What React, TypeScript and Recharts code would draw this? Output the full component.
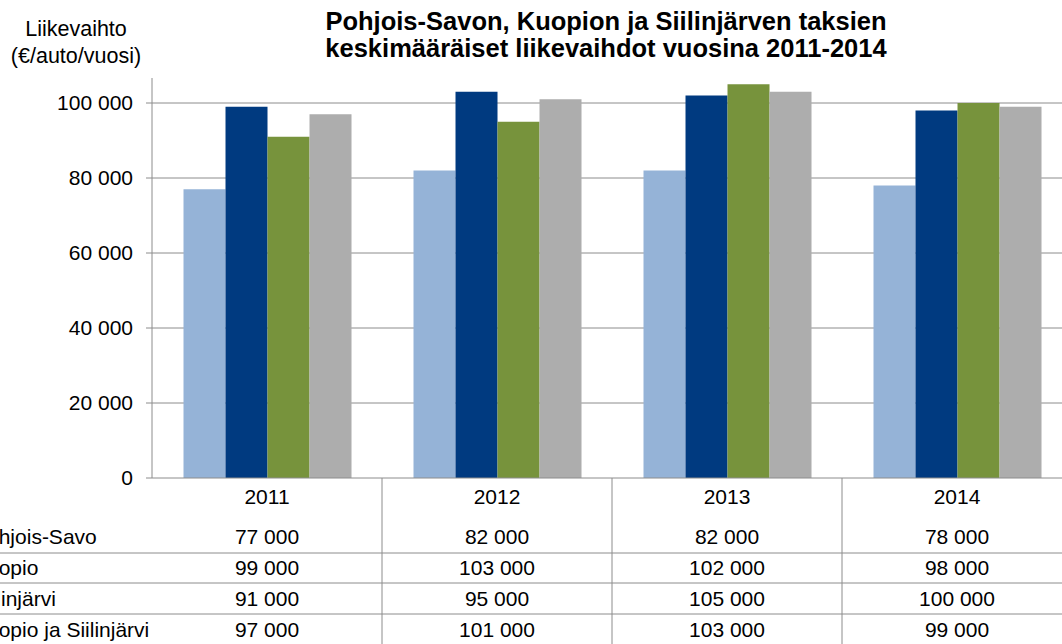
import React from "react";
import { BarChart, Bar, XAxis, YAxis, CartesianGrid } from "recharts";

const years = ["2011", "2012", "2013", "2014"];
const seriesNames = ["Pohjois-Savo", "Kuopio", "Siilinjärvi", "Kuopio ja Siilinjärvi"];
const pohjoisSavo = [77000, 82000, 82000, 78000];
const kuopio = [99000, 103000, 102000, 98000];
const siilinjarvi = [91000, 95000, 105000, 100000];
const kuopioSiilinjarvi = [97000, 101000, 103000, 99000];
const yTicks = [0, 20000, 40000, 60000, 80000, 100000];

const keys = ["ps", "ku", "si", "ks"];
const colors = ["#95B3D7", "#003A80", "#77933C", "#ADADAD"];
const seriesValues = [pohjoisSavo, kuopio, siilinjarvi, kuopioSiilinjarvi];

const data = years.map((year, i) => ({
  year,
  ps: pohjoisSavo[i],
  ku: kuopio[i],
  si: siilinjarvi[i],
  ks: kuopioSiilinjarvi[i],
}));

const FONT = "'Liberation Sans', Arial, sans-serif";
const GRID = "#8C8C8C";
const fmt = (v: number) => String(v).replace(/\B(?=(\d{3})+(?!\d))/g, " ");

// table rows below the plot (text centers)
const rowY = [537, 568, 599, 630];
const rowLines = [553, 583, 614];
const STEP = 230;

function TableTick(props: any) {
  const { x, payload, index } = props;
  return (
    <g>
      {index === 0 && (
        <g>
          {seriesNames.map((name, r) => (
            <text key={name} x={-27} y={rowY[r]} dy="0.355em" fontSize={21} fill="#000" fontFamily={FONT}>
              {name}
            </text>
          ))}
          {rowLines.map((ly) => (
            <line key={ly} x1={0} x2={1080} y1={ly} y2={ly} stroke={GRID} strokeWidth={1} />
          ))}
        </g>
      )}
      <line x1={x + STEP / 2} x2={x + STEP / 2} y1={478} y2={644} stroke={GRID} strokeWidth={1} />
      <text x={x} y={497} dy="0.355em" textAnchor="middle" fontSize={21} fill="#000" fontFamily={FONT}>
        {payload.value}
      </text>
      {seriesValues.map((vals, r) => (
        <text key={r} x={x} y={rowY[r]} dy="0.355em" textAnchor="middle" fontSize={21} fill="#000" fontFamily={FONT}>
          {fmt(vals[index])}
        </text>
      ))}
    </g>
  );
}

export default function App() {
  return (
    <div style={{ position: "absolute", left: 0, top: 0, width: 1062, height: 644, overflow: "hidden", background: "#fff", fontFamily: FONT }}>
      <div style={{ position: "absolute", left: 0, width: 152, top: 16, textAlign: "center", fontSize: 21.5, lineHeight: "27px" }}>
        <div>Liikevaihto</div>
        <div>(€/auto/vuosi)</div>
      </div>
      <div style={{ position: "absolute", left: 250, width: 712, top: 8, textAlign: "center", fontSize: 25.5, fontWeight: 700, lineHeight: "27px" }}>
        <div>Pohjois-Savon, Kuopion ja Siilinjärven taksien</div>
        <div>keskimääräiset liikevaihdot vuosina 2011-2014</div>
      </div>
      <div style={{ position: "absolute", left: 0, top: 0 }}>
        <BarChart
          width={1080}
          height={644}
          data={data}
          margin={{ top: 78, right: 8, left: 0, bottom: 0 }}
          barCategoryGap="13.7%"
          barGap={0}
        >
          <CartesianGrid vertical={false} stroke={GRID} horizontalValues={yTicks.slice(1)} />
          <XAxis
            dataKey="year"
            axisLine={{ stroke: GRID }}
            tickLine={false}
            tick={<TableTick />}
            interval={0}
            height={166}
          />
          <YAxis
            domain={[0, 106667]}
            ticks={yTicks}
            width={152}
            axisLine={{ stroke: GRID }}
            tickLine={{ stroke: GRID }}
            tickSize={6}
            tickMargin={13}
            tickFormatter={fmt}
            tick={{ fontSize: 21, fill: "#000", fontFamily: FONT }}
            allowDataOverflow
          />
          {keys.map((k, i) => (
            <Bar key={k} dataKey={k} name={seriesNames[i]} fill={colors[i]} isAnimationActive={false} />
          ))}
        </BarChart>
      </div>
    </div>
  );
}
